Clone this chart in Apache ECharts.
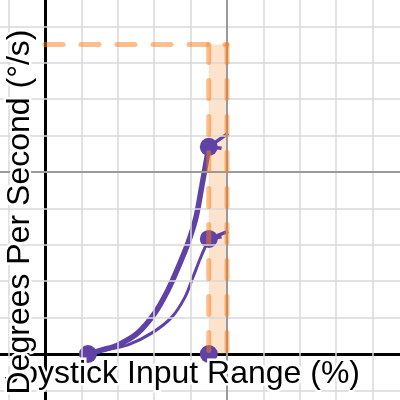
<!DOCTYPE html>
<html>
<head>
<meta charset="utf-8">
<script src="https://cdn.jsdelivr.net/npm/echarts@6/dist/echarts.min.js"></script>
<style>
  html, body { margin: 0; padding: 0; background: #fff; }
  #chart { width: 400px; height: 400px; }
</style>
</head>
<body>
<div id="chart"></div>
<script>
  // values (x: input %, y: degrees per second, same grid units)
  const fastCurve = [[11.8, 0], [15.7, 1.1], [20.1, 2.5], [25.5, 5.8], [30.2, 11.3], [33.8, 17.6],
    [36.5, 23.6], [39.3, 30.5], [41.5, 37.6], [43.1, 46.2], [45, 56.9]];
  const slowCurve = [[11.8, 0], [16.5, 1.1], [22.8, 2.5], [29.4, 5.8], [34.9, 10.2], [38.5, 15.7],
    [40.7, 21.2], [42.6, 26.1], [45, 31.6]];
  const keyPoints = [[11.8, 0], [45, 0], [45, 31.6], [45, 56.9]];
  const fastTangent = [[45, 56.9], [50.3, 60.6]];
  const fastFlat = [[45, 56.9], [48.5, 56.5]];
  const slowTangent = [[45, 31.6], [50.3, 33.7]];
  const slowFlat = [[45, 31.6], [48.5, 32.2]];
  const rateLimit = [[0, 85], [50, 85]];
  const bandLeft = [[45, 85], [45, 0]];
  const bandRight = [[50, 85], [50, 0]];
  const bandRange = [45, 50];
  const bandTop = 85;

  // visible window and grid lines
  const xRange = [-12.36, 97.53];
  const yRange = [-12.64, 97.25];
  const minorLines = [-10, 10, 20, 30, 40, 60, 70, 80, 90];
  const majorLines = [50];

  const xTitle = "Joystick Input Range (%)";
  const yTitle = "Degrees Per Second (°/s)";

  const purple = "#6042a6";
  const orangeLine = "rgba(250,126,25,0.5)";
  const font = '"Liberation Sans", Arial, sans-serif';

  const chart = echarts.init(document.getElementById("chart"));

  function axis(range) {
    return {
      type: "value",
      min: range[0],
      max: range[1],
      axisLine: {onZero: true, lineStyle: {color: "#000", width: 3}},
      axisTick: {show: false},
      axisLabel: {show: false},
      splitLine: {show: false}
    }
  }

  function gridLines(values, color, width, z) {
    let data = [];
    values.forEach(v => {
      data.push({xAxis: v});
      data.push({yAxis: v});
    });
    return {
      type: "line",
      data: [],
      z: z,
      markLine: {
        silent: true,
        symbol: "none",
        label: {show: false},
        lineStyle: {color: color, width: width, type: "solid"},
        data: data
      }
    }
  }

  function dashed(data) {
    return {
      type: "line",
      data: data,
      z: 6,
      symbol: "none",
      silent: true,
      lineStyle: {color: orangeLine, width: 5, type: [18, 18], cap: "round"}
    }
  }

  function segment(data) {
    return {
      type: "line",
      data: data,
      z: 2,
      symbol: "none",
      lineStyle: {color: purple, width: 3.5}
    }
  }

  chart.setOption({
    animation: false,
    grid: {left: 0, top: 0, right: 0, bottom: 0},
    xAxis: axis(xRange),
    yAxis: axis(yRange),
    series: [
      gridLines(minorLines, "#d8d8d8", 1.5, -2),
      gridLines(majorLines, "#9a9a9a", 2, -1),
      {
        type: "line",
        data: fastCurve,
        z: 2,
        smooth: 0.3,
        symbol: "none",
        lineStyle: {color: purple, width: 5.5}
      },
      {
        type: "line",
        data: slowCurve,
        z: 2,
        smooth: 0.3,
        symbol: "none",
        lineStyle: {color: purple, width: 3}
      },
      segment(fastTangent),
      segment(fastFlat),
      segment(slowTangent),
      segment(slowFlat),
      {
        type: "scatter",
        data: keyPoints,
        z: 3,
        symbolSize: 18,
        itemStyle: {color: purple, opacity: 1}
      },
      {
        type: "line",
        data: [],
        z: 5,
        markArea: {
          silent: true,
          itemStyle: {color: "rgba(250,126,25,0.22)"},
          data: [[{coord: [bandRange[0], 0]}, {coord: [bandRange[1], bandTop]}]]
        }
      },
      dashed(rateLimit),
      dashed(bandLeft),
      dashed(bandRight)
    ],
    graphic: [
      {
        type: "text",
        x: 360,
        y: 374,
        z: 10,
        style: {
          text: xTitle,
          font: "32px " + font,
          fill: "#000",
          align: "right",
          verticalAlign: "middle",
          stroke: "#fff",
          lineWidth: 5,
          strokeFirst: true
        }
      },
      {
        type: "text",
        x: 20,
        y: 212,
        z: 11,
        rotation: Math.PI / 2,
        style: {
          text: yTitle,
          font: "32px " + font,
          fill: "#000",
          align: "center",
          verticalAlign: "middle",
          stroke: "#fff",
          lineWidth: 5,
          strokeFirst: true
        }
      }
    ]
  });
</script>
</body>
</html>
